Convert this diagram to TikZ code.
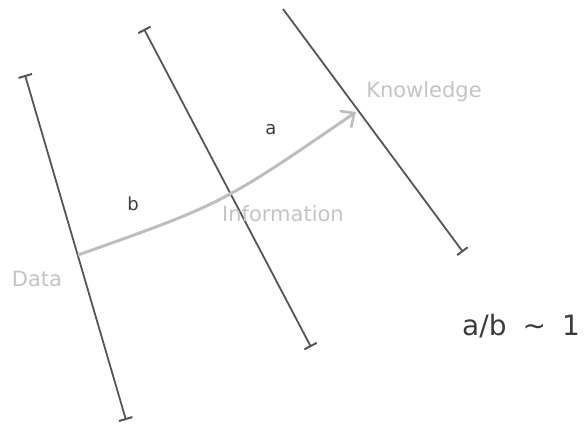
\documentclass[tikz,border=0pt]{standalone}
\usepackage{fontspec}
\setmainfont{DejaVu Sans}
\usetikzlibrary{arrows.meta}
\definecolor{linegray}{RGB}{85,85,85}
\definecolor{labelgray}{RGB}{196,196,196}
\definecolor{arrowgray}{RGB}{190,190,190}
\definecolor{textdark}{RGB}{60,60,60}
\tikzset{
  axisline/.style={draw=linegray, line width=1.8pt},
  capped/.style={{Bar[width=14pt,line width=2pt]}-{Bar[width=14pt,line width=2pt]}},
  endcapped/.style={-{Bar[width=13pt,line width=2pt]}},
  flowarrow/.style={draw=arrowgray, line width=3pt, -{Straight Barb[length=11pt,width=20pt,line width=2.6pt]}},
  graylabel/.style={text=labelgray, font=\fontsize{21}{24}\selectfont, inner sep=0pt},
  darklabel/.style={text=textdark, font=\fontsize{18}{21}\selectfont, inner sep=0pt},
  ratiolabel/.style={text=textdark, font=\fontsize{28}{32}\selectfont, inner sep=0pt}
}
\begin{document}
\begin{tikzpicture}[x=1pt,y=-1pt]
\useasboundingbox (0,0) rectangle (584,427);
% line end points
\coordinate (d1) at (25,75);
\coordinate (d2) at (126,420);
\coordinate (i1) at (144,29);
\coordinate (i2) at (311,347);
\coordinate (k1) at (283,9);
\coordinate (k2) at (463,252);
% arrow
\coordinate (astart) at (78,255);
\coordinate (actrl) at (222,204);
\coordinate (aend) at (356,112);

\draw[axisline, capped] (d1) -- (d2);
\draw[axisline, capped] (i1) -- (i2);
\draw[axisline, endcapped] (k1) -- (k2);

\draw[flowarrow] (astart) .. controls (actrl) .. (aend);

\node[graylabel] (know) at (424,92) {Knowledge};
\node[graylabel] (info) at (283,214) {Information};
\node[graylabel] (data) at (37,279) {Data};
\node[darklabel] (la) at (271,130) {a};
\node[darklabel] (lb) at (133,204) {b};
\node[ratiolabel, anchor=west] (ratio) at (462,326) {a/b\hspace{16pt}\textasciitilde\hspace{16pt}1};
\end{tikzpicture}
\end{document}
